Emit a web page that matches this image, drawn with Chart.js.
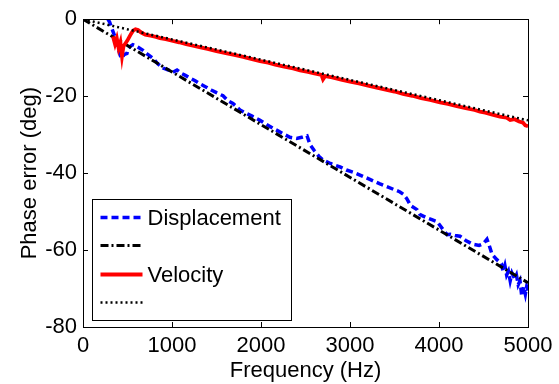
<!DOCTYPE html>
<html>
<head>
<meta charset="utf-8">
<script src="https://cdn.jsdelivr.net/npm/chart.js@4/dist/chart.umd.min.js"></script>
<style>
  html, body { margin: 0; padding: 0; background: #fff; }
  #c { display: block; }
</style>
</head>
<body>
<canvas id="c" width="559" height="384"></canvas>
<script>
// ---- data ----
const xTicks = [0, 1000, 2000, 3000, 4000, 5000];
const yTicks = [-80, -60, -40, -20, 0];

const dispFreq = [280,300,326,350,382,400,420,438,460,494,510,528,560,584,620,674,720,787,840,899,960,1010,1056,1100,1150,1202,1260,1315,1380,1440,1500,1573,1630,1685,1764,1820,1900,1989,2067,2130,2180,2250,2326,2400,2470,2517,2551,2600,2650,2697,2780,2888,2960,3040,3112,3337,3562,3600,3640,3680,3753,3787,3850,3920,3978,4040,4090,4124,4180,4236,4300,4382,4450,4500,4539,4560,4596,4650,4700,4720,4740,4760,4780,4800,4820,4850,4870,4890,4910,4930,4950,4970,4985,5000];
const dispPhase = [0,-0.8,-2.5,-4,-6.3,-8,-9.5,-10.2,-9.2,-8.9,-7.5,-7.1,-6.6,-6.8,-7.3,-8.1,-9.0,-10.2,-11.6,-12.7,-13.2,-13.8,-13.2,-14.0,-14.6,-15.3,-16.0,-16.8,-17.6,-18.4,-19.1,-19.9,-21.2,-21.9,-23.6,-24.3,-25.2,-26.3,-27.4,-28.3,-28.9,-29.8,-30.7,-31.0,-30.6,-30.3,-32.6,-34.2,-35.6,-36.6,-37.5,-38.4,-39.2,-39.8,-40.5,-42.8,-44.9,-45.5,-46.7,-48.4,-49.5,-50.8,-51.5,-52.1,-52.6,-54.5,-56.0,-55.9,-56.2,-56.4,-57.5,-58.5,-58.8,-58.3,-57.2,-58.5,-61.1,-62.5,-63.5,-65.5,-64,-66.5,-65.5,-68,-66,-67.5,-66.5,-69,-68,-72,-69.5,-71.5,-69.5,-70.5];

const dispModelFreq = [0, 5000];
const dispModelPhase = [0, -68.5];

const velFreq = [337,360,380,400,420,438,455,470,500,530,562,590,618,650,700,760,820,865,930,1000,1080,1160,1236,1320,1400,1500,1618,1700,1800,1900,1989,2080,2160,2260,2360,2440,2528,2600,2680,2697,2720,2800,2900,3000,3100,3191,3300,3400,3500,3596,3700,3800,3900,4011,4100,4200,4300,4400,4461,4520,4600,4685,4760,4800,4850,4900,4944,4970,5000];
const velPhase = [-4.5,-6.5,-5,-7.5,-6,-9.6,-7,-6.5,-5.5,-4.2,-3.0,-2.6,-2.8,-3.4,-4.0,-4.3,-4.6,-4.9,-5.2,-5.6,-6.0,-6.5,-6.9,-7.3,-7.7,-8.3,-8.9,-9.3,-9.8,-10.4,-10.9,-11.3,-11.8,-12.3,-12.8,-13.3,-13.7,-14.1,-14.5,-15.6,-14.8,-15.1,-15.7,-16.2,-16.7,-17.2,-17.8,-18.3,-18.8,-19.4,-19.9,-20.5,-21.0,-21.6,-22.0,-22.6,-23.1,-23.6,-24.0,-24.3,-24.8,-25.3,-25.6,-26.2,-26.0,-26.6,-26.9,-27.6,-27.8];

const velModelFreq = [0, 5000];
const velModelPhase = [0, -26.3];

const legendLabels = ['Displacement', '', 'Velocity', ''];

const FONT = 'Liberation Sans, Arial, sans-serif';
const pts = (xs, ys) => xs.map((x, i) => ({x: x, y: ys[i]}));

const datasets = [
  {label: legendLabels[0], data: pts(dispFreq, dispPhase), borderColor: '#0000ff', borderWidth: 3.5, borderDash: [7, 4], order: 3},
  {label: legendLabels[1], data: pts(dispModelFreq, dispModelPhase), borderColor: '#000000', borderWidth: 3, borderDash: [8, 3, 2, 3], order: 2},
  {label: legendLabels[2], data: pts(velFreq, velPhase), borderColor: '#ff0000', borderWidth: 3.8, order: 1},
  {label: legendLabels[3], data: pts(velModelFreq, velModelPhase), borderColor: '#000000', borderWidth: 2.5, borderDash: [2, 3], order: 0}
];
datasets.forEach(d => { d.pointRadius = 0; d.fill = false; d.tension = 0; d.showLine = true; d.borderCapStyle = 'butt'; });

const frameAndTicks = {
  id: 'frameAndTicks',
  afterDatasetsDraw(chart) {
    const {ctx, chartArea: a, scales} = chart;
    ctx.save();
    ctx.strokeStyle = '#000';
    ctx.lineWidth = 1;
    ctx.setLineDash([]);
    ctx.beginPath();
    const L = 5;
    xTicks.forEach(v => {
      const x = Math.round(scales.x.getPixelForValue(v)) + 0.5;
      ctx.moveTo(x, a.bottom); ctx.lineTo(x, a.bottom - L);
      ctx.moveTo(x, a.top); ctx.lineTo(x, a.top + L);
    });
    yTicks.forEach(v => {
      const y = Math.round(scales.y.getPixelForValue(v)) + 0.5;
      ctx.moveTo(a.left, y); ctx.lineTo(a.left + L, y);
      ctx.moveTo(a.right, y); ctx.lineTo(a.right - L, y);
    });
    ctx.stroke();
    ctx.strokeRect(Math.round(a.left) + 0.5, Math.round(a.top) + 0.5, Math.round(a.right - a.left), Math.round(a.bottom - a.top));

    // legend box inside plot, lower-left
    const bx = Math.round(a.left) + 9.5, bw = 199, bh = 121;
    const by = Math.round(a.bottom) - 6.5 - bh;
    ctx.fillStyle = '#fff';
    ctx.fillRect(bx, by, bw, bh);
    ctx.strokeRect(bx, by, bw, bh);
    const rowY = [18, 46, 75, 103];
    ctx.font = '22px ' + FONT;
    ctx.textBaseline = 'middle';
    ctx.textAlign = 'left';
    datasets.forEach((d, i) => {
      const y = by + rowY[i];
      ctx.beginPath();
      ctx.strokeStyle = d.borderColor;
      ctx.lineWidth = d.borderWidth;
      ctx.setLineDash(d.borderDash || []);
      ctx.moveTo(bx + 8, y);
      ctx.lineTo(bx + 50, y);
      ctx.stroke();
      ctx.setLineDash([]);
      if (d.label) {
        ctx.fillStyle = '#000';
        ctx.fillText(d.label, bx + 55, y + 1);
      }
    });
    ctx.restore();
  }
};

new Chart(document.getElementById('c'), {
  type: 'scatter',
  data: {datasets: datasets},
  plugins: [frameAndTicks],
  options: {
    responsive: false,
    animation: false,
    devicePixelRatio: 1,
    layout: {padding: {top: 16, right: 31, left: 0, bottom: 0}},
    plugins: {legend: {display: false}, tooltip: {enabled: false}},
    scales: {
      x: {
        type: 'linear', min: 0, max: 5000,
        afterBuildTicks: s => { s.ticks = xTicks.map(v => ({value: v})); },
        afterFit: s => { s.height = 57; },
        grid: {display: false, drawTicks: false},
        border: {display: true, color: '#000', width: 1},
        ticks: {color: '#000', font: {family: FONT, size: 22}, padding: 6, maxRotation: 0, callback: v => String(v)},
        title: {display: true, text: 'Frequency (Hz)', color: '#000', font: {family: FONT, size: 22}, padding: {top: 0, bottom: 0}}
      },
      y: {
        type: 'linear', min: -80, max: 0,
        afterBuildTicks: s => { s.ticks = yTicks.map(v => ({value: v})); },
        afterFit: s => { s.width = 83; },
        grid: {display: false, drawTicks: false},
        border: {display: true, color: '#000', width: 1},
        ticks: {color: '#000', font: {family: FONT, size: 22}, padding: 6, callback: v => String(v)},
        title: {display: true, text: 'Phase error (deg)', color: '#000', font: {family: FONT, size: 22}, padding: {top: 17, bottom: 0}}
      }
    }
  }
});
</script>
</body>
</html>
